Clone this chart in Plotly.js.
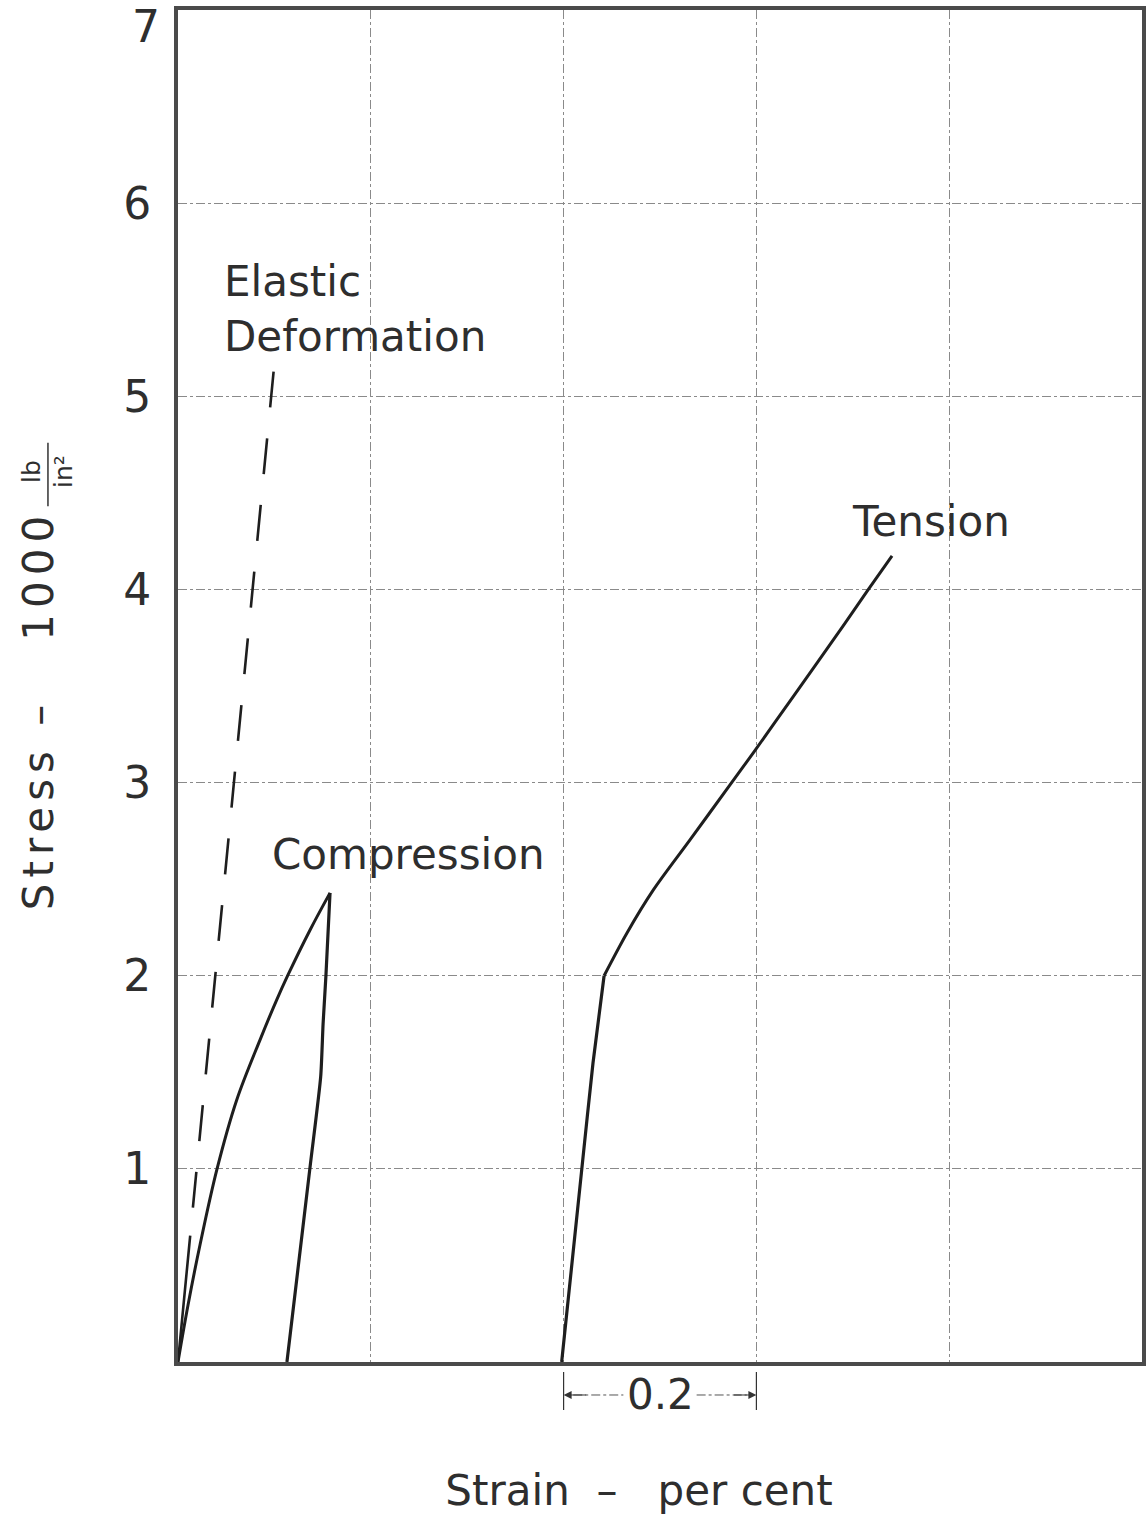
<!DOCTYPE html>
<html>
<head>
<meta charset="utf-8">
<script src="https://cdn.plot.ly/plotly-3.0.1.min.js"></script>
<style>
html,body{margin:0;padding:0;background:#fff;}
.ytitle{letter-spacing:6px;}
</style>
</head>
<body>
<div id="chart" style="width:1147px;height:1516px;"></div>
<script>
// Strain (per cent, curves offset on a common chart) and stress (1000 lb/in^2)
const elasticStrain = [0.0, 0.0996];
const elasticStress = [0.0, 5.15];

const compressionLoadStrain = [0.0, 0.0104, 0.0228, 0.0405, 0.0609, 0.0851, 0.1024, 0.1141, 0.137, 0.1577];
const compressionLoadStress = [0.0, 0.295, 0.606, 1.0, 1.357, 1.668, 1.875, 2.004, 2.237, 2.429];
const compressionUnloadStrain = [0.1577, 0.1535, 0.1505, 0.148, 0.137, 0.113];
const compressionUnloadStress = [2.429, 2.004, 1.75, 1.476, 1.01, 0.0];

const tensionLowerStrain = [0.398, 0.419, 0.4305, 0.442];
const tensionLowerStress = [0.0, 1.005, 1.548, 2.0];
const tensionUpperStrain = [0.442, 0.4656, 0.4931, 0.5311, 0.5726, 0.5975, 0.638, 0.690, 0.7158, 0.7407];
const tensionUpperStress = [2.0, 2.22, 2.444, 2.703, 2.988, 3.159, 3.444, 3.811, 3.998, 4.174];

const yTickVals = [1, 2, 3, 4, 5, 6];
const yTickText = ['1', '2', '3', '4', '5', '6'];

const FONT = 'DejaVu Sans, Liberation Sans, sans-serif';
const INK = '#1e1e1e';
const TXT = '#2e2e2e';
const NB = '\u00a0';
const EM = '\u2003';
const ZW = '\u200b';

// dash pattern of the elastic line: one long first stroke, then regular dashes
const elasticDash = '127px,28px' + ',36px,31px'.repeat(13);

const traces = [
  {x: elasticStrain, y: elasticStress, mode: 'lines', name: 'Elastic Deformation',
   line: {color: INK, width: 2.6, dash: elasticDash}, hoverinfo: 'skip'},
  {x: compressionLoadStrain, y: compressionLoadStress, mode: 'lines', name: 'Compression',
   line: {color: INK, width: 3, shape: 'spline', smoothing: 1}, hoverinfo: 'skip'},
  {x: compressionUnloadStrain, y: compressionUnloadStress, mode: 'lines', name: 'Compression (unloading)',
   line: {color: INK, width: 3.2, shape: 'spline', smoothing: 0.6}, hoverinfo: 'skip'},
  {x: tensionLowerStrain, y: tensionLowerStress, mode: 'lines', name: 'Tension',
   line: {color: INK, width: 3.2, shape: 'spline', smoothing: 0.4}, hoverinfo: 'skip'},
  {x: tensionUpperStrain, y: tensionUpperStress, mode: 'lines', name: 'Tension (upper)',
   line: {color: INK, width: 3, shape: 'spline', smoothing: 0.8}, hoverinfo: 'skip'}
];

const layout = {
  width: 1147, height: 1516,
  margin: {l: 178, r: 5, t: 10, b: 154},
  paper_bgcolor: '#ffffff', plot_bgcolor: '#ffffff',
  showlegend: false,
  font: {family: FONT, color: TXT},
  xaxis: {
    range: [0, 1.0], dtick: 0.2, tick0: 0, showticklabels: false, ticks: '',
    showgrid: true, gridcolor: '#8a8a8a', gridwidth: 1, griddash: 'dashdot',
    zeroline: false, showline: true, mirror: true, linecolor: '#4a4a4a', linewidth: 4,
    title: {text: 'Strain' + NB + NB + '–' + NB + NB + NB + 'per' + NB + 'cent' + EM + ZW,
            font: {size: 42, family: FONT, color: TXT}, standoff: 112}
  },
  yaxis: {
    range: [0, 7], tickmode: 'array', tickvals: yTickVals, ticktext: yTickText,
    ticks: '', ticklabelstandoff: 14, tickfont: {size: 44, family: FONT, color: TXT},
    showgrid: true, gridcolor: '#8a8a8a', gridwidth: 1, griddash: 'dashdot',
    zeroline: false, showline: true, mirror: true, linecolor: '#4a4a4a', linewidth: 4,
    title: {text: 'Stress' + NB + '–' + NB + NB + NB + '1000' + EM + ZW,
            font: {size: 42, family: FONT, color: TXT}, standoff: 58}
  },
  annotations: [
    {x: 0, y: 7, xref: 'paper', yref: 'y', text: '7', showarrow: false, xanchor: 'right', yanchor: 'top',
     xshift: -16, yshift: 11, font: {size: 44, family: FONT, color: TXT}},
    {x: 0.0456, y: 5.45, xref: 'x', yref: 'y', text: 'Elastic<br>Deformation', align: 'left', showarrow: false,
     xanchor: 'left', yanchor: 'middle', font: {size: 42, family: FONT, color: TXT}},
    {x: 0.0954, y: 2.626, xref: 'x', yref: 'y', text: 'Compression', showarrow: false,
     xanchor: 'left', yanchor: 'middle', font: {size: 42, family: FONT, color: TXT}},
    {x: 0.697, y: 4.35, xref: 'x', yref: 'y', text: 'Tension', showarrow: false,
     xanchor: 'left', yanchor: 'middle', font: {size: 42, family: FONT, color: TXT}},
    {x: 0.5, y: -0.0244, xref: 'x', yref: 'paper', text: '0.2', showarrow: false,
     xanchor: 'center', yanchor: 'middle', font: {size: 42, family: FONT, color: TXT}},
    {x: 0.4, y: -0.0244, xref: 'x', yref: 'paper', ax: 0.425, ay: 0, axref: 'x', ayref: 'pixel', text: '',
     showarrow: true, arrowhead: 2, arrowsize: 1.6, arrowwidth: 1, arrowcolor: '#333', standoff: 0},
    {x: 0.6, y: -0.0244, xref: 'x', yref: 'paper', ax: 0.575, ay: 0, axref: 'x', ayref: 'pixel', text: '',
     showarrow: true, arrowhead: 2, arrowsize: 1.6, arrowwidth: 1, arrowcolor: '#333', standoff: 0},
    {x: -0.1349, y: 0.659, xref: 'paper', yref: 'paper', text: 'lb<br>in²', textangle: -90, showarrow: false,
     xanchor: 'center', yanchor: 'middle', align: 'center', font: {size: 25, family: FONT, color: TXT}}
  ],
  shapes: [
    {type: 'line', xref: 'x', yref: 'paper', x0: 0.4, x1: 0.4, y0: -0.0074, y1: -0.0355, line: {color: '#333', width: 1.2}},
    {type: 'line', xref: 'x', yref: 'paper', x0: 0.6, x1: 0.6, y0: -0.0074, y1: -0.0355, line: {color: '#333', width: 1.2}},
    {type: 'line', xref: 'x', yref: 'paper', x0: 0.41, x1: 0.462, y0: -0.0244, y1: -0.0244, line: {color: '#555', width: 1, dash: 'dashdot'}},
    {type: 'line', xref: 'x', yref: 'paper', x0: 0.538, x1: 0.59, y0: -0.0244, y1: -0.0244, line: {color: '#555', width: 1, dash: 'dashdot'}},
    {type: 'line', xref: 'paper', yref: 'paper', x0: -0.1349, x1: -0.1349, y0: 0.633, y1: 0.680, line: {color: '#333', width: 1.5}}
  ]
};

Plotly.newPlot('chart', traces, layout, {staticPlot: true, displayModeBar: false});
</script>
</body>
</html>
